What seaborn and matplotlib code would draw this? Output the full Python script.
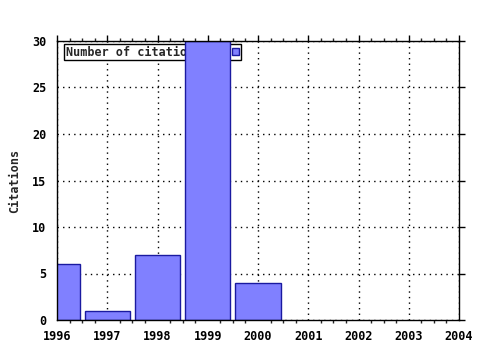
import matplotlib
matplotlib.use("Agg")
import matplotlib.pyplot as plt
import seaborn as sns
import pandas as pd
from matplotlib.ticker import MultipleLocator

years = [1996, 1997, 1998, 1999, 2000]
citations = [6, 1, 7, 30, 4]
xticks = [1996, 1997, 1998, 1999, 2000, 2001, 2002, 2003, 2004]
yticks = [0, 5, 10, 15, 20, 25, 30]
series_name = "Number of citations"

df = pd.DataFrame({"year": years, "citations": citations})

sns.set_style("white")
plt.rcParams['font.family'] = ['DejaVu Sans Mono']
plt.rcParams['font.weight'] = 'bold'

fig = plt.figure(figsize=(4.8, 3.5), dpi=100)
ax = fig.add_axes([57/480, 30/350, 402/480, 279/350])

sns.barplot(data=df, x="year", y="citations", native_scale=True, width=0.9,
            color="#8080FF", saturation=1, edgecolor="#1A1AA0", linewidth=1,
            ax=ax, zorder=2, label=series_name)

ax.set_xlim(1996, 2004)
ax.set_ylim(0, 30)
ax.set_xticks(xticks)
ax.set_xticklabels([str(t) for t in xticks])
ax.set_yticks(yticks)
ax.xaxis.set_minor_locator(MultipleLocator(0.25))
ax.tick_params(axis="both", which="major", direction="out", length=4, width=1,
               labelsize=8.5, colors="black", top=True, right=True)
ax.tick_params(axis="x", which="minor", direction="out", length=2, width=1,
               top=True, bottom=True)
for lab in ax.get_xticklabels() + ax.get_yticklabels():
    lab.set_fontweight("bold")
ax.set_xlabel("")
ax.set_ylabel("Citations", fontsize=8.5, fontweight="bold", labelpad=8)

ax.set_axisbelow(True)
ax.grid(True, which="major", color="black", linestyle=(0, (1, 3)), linewidth=1)
for s in ax.spines.values():
    s.set_visible(True)
    s.set_color("black")
    s.set_linewidth(1)

leg = ax.legend(loc="upper left", bbox_to_anchor=(0.017, 0.99), borderaxespad=0,
                fancybox=False, frameon=True, edgecolor="black", framealpha=1,
                markerfirst=False, handlelength=0.6, handleheight=0.6,
                handletextpad=2.6, borderpad=0.15,
                prop={"family": "DejaVu Sans Mono", "weight": "bold", "size": 8.5})
leg.get_frame().set_linewidth(1)
leg.set_zorder(1)

fig.savefig("out.png", dpi=100)
